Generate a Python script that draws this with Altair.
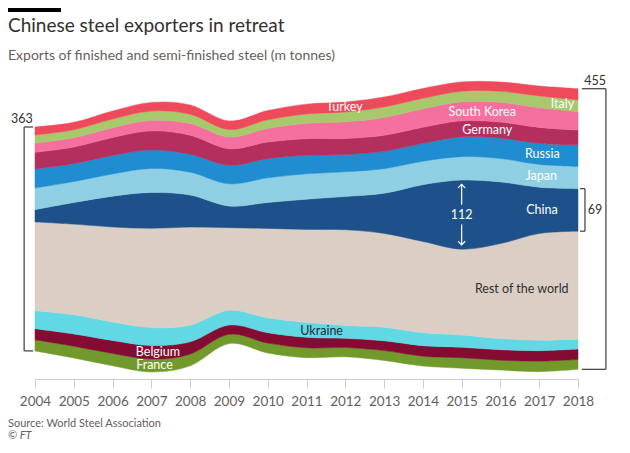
import altair as alt
import pandas as pd
import numpy as np

years = list(range(2004, 2019))

# Exports of finished and semi-finished steel, m tonnes
turkey      = [13, 12, 13, 14, 15, 14, 15, 16, 16, 16, 16, 15, 15, 16, 18]
italy       = [13, 13, 14, 15, 15, 12, 14, 15, 16, 17, 17, 17, 18, 19, 19]
south_korea = [15, 15, 16, 17, 19, 19, 22, 25, 27, 29, 30, 31, 32, 32, 30]
germany     = [27, 27, 29, 31, 31, 27, 27, 27, 26, 26, 26, 26, 26, 26, 24]
russia      = [31, 29, 30, 30, 29, 30, 31, 30, 28, 28, 29, 32, 33, 34, 35]
japan       = [35, 34, 36, 39, 37, 36, 40, 41, 40, 40, 38, 38, 38, 37, 36]
china       = [20, 35, 50, 58, 52, 35, 42, 49, 54, 65, 92, 112, 100, 75, 69]
rest        = [144, 147, 154, 161, 159, 134, 145, 151, 155, 152, 148, 139, 154, 173, 175]
ukraine     = [29, 31, 30, 29, 27, 24, 24, 24, 21, 22, 21, 20, 18, 17, 16]
belgium     = [18, 20, 21, 22, 20, 15, 17, 17, 15, 16, 17, 17, 17, 17, 17]
france      = [18, 19, 20, 21, 19, 15, 16, 16, 15, 16, 16, 17, 16, 17, 16]

# bottom -> top
series_order = ["France", "Belgium", "Ukraine", "Rest of the world", "China",
                "Japan", "Russia", "Germany", "South Korea", "Italy", "Turkey"]
values = {
    "France": france, "Belgium": belgium, "Ukraine": ukraine,
    "Rest of the world": rest, "China": china, "Japan": japan,
    "Russia": russia, "Germany": germany, "South Korea": south_korea,
    "Italy": italy, "Turkey": turkey,
}
colors = {
    "Turkey": "#ee4a5c", "Italy": "#a8c86c", "South Korea": "#f6709f",
    "Germany": "#b3305e", "Russia": "#1f8dd0", "Japan": "#8fcfe4",
    "China": "#1e5189", "Rest of the world": "#dacec5", "Ukraine": "#62d8e4",
    "Belgium": "#840c32", "France": "#72992b",
}

# streamgraph "wiggle" baseline (same algorithm as d3.stackOffsetWiggle)
V = np.array([values[s] for s in series_order], dtype=float)
n, m = V.shape
base = np.zeros(m)
yb = 0.0
for j in range(1, m):
    s1 = 0.0
    s2 = 0.0
    for i in range(n):
        s3 = (V[i, j] - V[i, j - 1]) / 2 + (V[:i, j] - V[:i, j - 1]).sum()
        s1 += V[i, j]
        s2 += s3 * V[i, j]
    if s1:
        yb -= s2 / s1
    base[j] = yb
upper = base + np.cumsum(V, axis=0)
lower = upper - V
lo, hi = float(lower.min()), float(upper.max())

rows = []
for i, s in enumerate(series_order):
    for j, yr in enumerate(years):
        rows.append({"year": yr, "series": s, "lo": lower[i, j], "hi": upper[i, j]})
area_df = pd.DataFrame(rows)

xs = alt.Scale(domain=[2004, 2018], nice=False, zero=False)
ys = alt.Scale(domain=[lo, hi], nice=False, zero=False)
FONT = "Lato"
DARK = "#33302e"
GREY = "#66605c"

XAXIS = alt.Axis(values=years, format="d", title=None, grid=False,
                 domainColor="#cfcfcf", tickColor="#cfcfcf", tickSize=9,
                 labelColor=GREY, labelFontSize=13.5, labelFont=FONT,
                 labelFlush=False, labelOverlap=False, labelPadding=6,
                 offset=7)


def X(field):
    return alt.X(field, scale=xs, axis=XAXIS)


def Y(field):
    return alt.Y(field, scale=ys, axis=None)


def idx(name):
    return series_order.index(name)


def band_mid(name, xpos):
    i = idx(name)
    return float(np.interp(xpos, years, (lower[i] + upper[i]) / 2))


cscale = alt.Scale(domain=series_order, range=[colors[s] for s in series_order])
areas = alt.Chart(area_df).mark_area(interpolate="cardinal", strokeWidth=0.5).encode(
    x=X("year:Q"),
    y=Y("lo:Q"),
    y2="hi:Q",
    color=alt.Color("series:N", scale=cscale, legend=None),
    stroke=alt.Stroke("series:N", scale=cscale, legend=None),
    detail="series:N",
)

# band labels
WHITE = "#ffffff"
label_spec = [
    ("Turkey", 2011.98, WHITE), ("South Korea", 2015.53, WHITE),
    ("Italy", 2017.6, WHITE), ("Germany", 2015.66, WHITE),
    ("Russia", 2017.08, WHITE), ("Japan", 2017.05, WHITE),
    ("China", 2017.07, WHITE), ("Rest of the world", 2016.55, DARK),
    ("Ukraine", 2011.39, "#1f2a36"), ("Belgium", 2007.17, WHITE),
    ("France", 2007.08, WHITE),
]
label_df = pd.DataFrame([
    {"name": nm, "x": xp, "y": band_mid(nm, xp), "tcol": c} for nm, xp, c in label_spec
])
labels = alt.Chart(label_df).mark_text(font=FONT, fontSize=12.5, align="center",
                                       baseline="middle", clip=False).encode(
    x=X("x:Q"), y=Y("y:Q"),
    text="name:N", color=alt.Color("tcol:N", scale=None),
)

# China 2015 arrow
ci = idx("China")
j15 = years.index(2015)
c_mid = (lower[ci, j15] + upper[ci, j15]) / 2
c_half = V[ci, j15] / 2 - 7
arrow_df = pd.DataFrame([
    {"x": 2015, "y": c_mid + c_half, "y2": c_mid + 16},
    {"x": 2015, "y": c_mid - 16, "y2": c_mid - c_half},
])
arrow = alt.Chart(arrow_df).mark_rule(color="white", strokeWidth=1.2).encode(
    x=X("x:Q"), y=Y("y:Q"), y2="y2:Q")
tip_up = alt.Chart(pd.DataFrame({"x": [2015], "y": [c_mid + c_half]})).mark_point(
    shape="M-1,1L0,0L1,1", filled=False, stroke="white", strokeWidth=1.2, size=50, opacity=1
).encode(x=X("x:Q"), y=Y("y:Q"))
tip_dn = alt.Chart(pd.DataFrame({"x": [2015], "y": [c_mid - c_half]})).mark_point(
    shape="M-1,-1L0,0L1,-1", filled=False, stroke="white", strokeWidth=1.2, size=50, opacity=1
).encode(x=X("x:Q"), y=Y("y:Q"))
peak_lbl = alt.Chart(pd.DataFrame({"x": [2015], "y": [c_mid], "t": [str(china[j15])]})).mark_text(
    font=FONT, fontSize=12.5, color="white", align="center", baseline="middle"
).encode(x=X("x:Q"), y=Y("y:Q"), text="t:N")

# brackets
top04, bot04 = upper[-1, 0], lower[0, 0]
top18, bot18 = upper[-1, -1], lower[0, -1]
ctop18, cbot18 = upper[ci, -1], lower[ci, -1]
seg_df = pd.DataFrame([
    {"x": 2003.72, "x2": 2003.72, "y": top04, "y2": bot04},
    {"x": 2003.72, "x2": 2003.95, "y": top04, "y2": top04},
    {"x": 2003.72, "x2": 2003.95, "y": bot04, "y2": bot04},
    {"x": 2018.72, "x2": 2018.72, "y": top18, "y2": bot18},
    {"x": 2018.10, "x2": 2018.72, "y": top18, "y2": top18},
    {"x": 2018.10, "x2": 2018.72, "y": bot18, "y2": bot18},
    {"x": 2018.18, "x2": 2018.18, "y": ctop18, "y2": cbot18},
    {"x": 2018.05, "x2": 2018.18, "y": ctop18, "y2": ctop18},
    {"x": 2018.05, "x2": 2018.18, "y": cbot18, "y2": cbot18},
])
brackets = alt.Chart(seg_df).mark_rule(color="#4d4845", strokeWidth=1.3, clip=False).encode(
    x=X("x:Q"), x2="x2:Q", y=Y("y:Q"), y2="y2:Q")

tot_df = pd.DataFrame([
    {"x": 2003.66, "y": top04, "t": str(int(V[:, 0].sum()))},
    {"x": 2018.44, "y": top18, "t": str(int(V[:, -1].sum()))},
])
totals = alt.Chart(tot_df).mark_text(font=FONT, fontSize=12.5, color=DARK, align="center",
                                     baseline="alphabetic", dy=-4, clip=False).encode(
    x=X("x:Q"), y=Y("y:Q"), text="t:N")
c18 = alt.Chart(pd.DataFrame({"x": [2018.25], "y": [(ctop18 + cbot18) / 2],
                              "t": [str(china[-1])]})).mark_text(
    font=FONT, fontSize=12.5, color=DARK, align="left", baseline="middle", clip=False
).encode(x=X("x:Q"), y=Y("y:Q"), text="t:N")

# titles and footer
title_text = ["Chinese steel exporters in retreat"]
subtitle_text = ["Exports of finished and semi-finished steel (m tonnes)"]
source_text = ["Source: World Steel Association"]
credit_text = ["© FT"]

bar = alt.Chart(pd.DataFrame({"t": [""]})).mark_rule(color="#000000", strokeWidth=4).encode(
    x=alt.value(-27), x2=alt.value(26), y=alt.value(-72))
title = alt.Chart(pd.DataFrame({"t": title_text})).mark_text(
    font=FONT, fontSize=19, color=DARK, align="left", baseline="alphabetic").encode(
    text="t:N", x=alt.value(-27), y=alt.value(-50))
subtitle = alt.Chart(pd.DataFrame({"t": subtitle_text})).mark_text(
    font=FONT, fontSize=14, color=GREY, align="left", baseline="alphabetic").encode(
    text="t:N", x=alt.value(-27), y=alt.value(-22))
source = alt.Chart(pd.DataFrame({"t": source_text})).mark_text(
    font=FONT, fontSize=11, color=GREY, align="left", baseline="alphabetic").encode(
    text="t:N", x=alt.value(-27), y=alt.value(345))
credit = alt.Chart(pd.DataFrame({"t": credit_text})).mark_text(
    font=FONT, fontSize=11, fontStyle="italic", color=GREY, align="left", baseline="alphabetic").encode(
    text="t:N", x=alt.value(-27), y=alt.value(357))

chart = alt.layer(
    areas, labels, arrow, tip_up, tip_dn, peak_lbl, brackets, totals, c18,
    bar, title, subtitle, source, credit,
).properties(
    width=543, height=290,
    autosize=alt.AutoSizeParams(type="none"),
    padding={"left": 27, "top": 74, "right": 44, "bottom": 69},
    background="white",
).configure_view(stroke=None)

chart.save("out.html", embed_options={"renderer": "svg", "actions": False})
